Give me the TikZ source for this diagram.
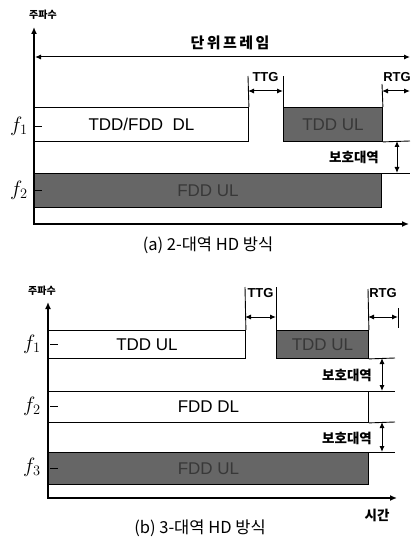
\documentclass[tikz,border=0pt]{standalone}
\usepackage{fontspec}
\setmainfont{Liberation Sans}
\newfontfamily\kr{Noto Sans CJK KR}
\usetikzlibrary{arrows.meta}
\begin{document}
\begin{tikzpicture}[x=1pt,y=-1pt,
  every node/.style={inner sep=0pt},
  ax/.style={line width=1.8pt},
  ln/.style={line width=0.9pt},
  axarr/.style={ax,{Latex[length=7pt,width=6pt]}-{Latex[length=7pt,width=6pt]}},
  dbl/.style={line width=1pt,{Latex[length=6pt,width=5pt]}-{Latex[length=6pt,width=5pt]}},
  wbox/.style={draw, line width=0.9pt, fill=white, anchor=north west, font=\fontsize{17}{17}\selectfont},
  dbox/.style={draw, line width=0.9pt, fill=black!60, anchor=north west, text=black!78, font=\fontsize{17}{17}\selectfont},
  flab/.style={font=\fontsize{21}{21}\selectfont},
  krl/.style={font=\kr\bfseries\fontsize{13.5}{13.5}\selectfont},
  krf/.style={font=\kr\bfseries\fontsize{15}{15}\selectfont},
  krs/.style={font=\kr\bfseries\fontsize{10}{10}\selectfont},
  gl/.style={font=\bfseries\fontsize{13}{13}\selectfont},
  captxt/.style={font=\kr\fontsize{16.5}{16.5}\selectfont},
]
\useasboundingbox (0,0) rectangle (411,540);

% ================= panel (a) =================
\coordinate (aY) at (34,27);
\coordinate (aO) at (34,224);
\coordinate (aX) at (409,224);
\draw[axarr] (aY) -- (aO) -- (aX);
\node[krs] (aFreq) at (43,15) {주파수};

\node[krf] (aFrame) at (230,43) {단\,위\,프\,레\,임};
\coordinate (aFL) at (35,57);
\coordinate (aFR) at (410,57);
\draw[dbl] (aFL) -- (aFR);

\node[wbox, minimum width=214pt, minimum height=34pt] (aDL) at (34,107) {TDD/FDD\ \ DL};
\node[dbox, minimum width=99pt, minimum height=34pt] (aUL) at (283,107) {TDD UL};
\node[dbox, minimum width=347pt, minimum height=34pt] (aFU) at (34,173) {FDD UL};

% TTG
\coordinate (aT1) at (248,76);
\coordinate (aT2) at (283,76);
\draw[ln] (aDL.north east) -- (aT1);
\draw[ln] (aUL.north west) -- (aT2);
\node[gl] (aTTG) at (265.5,77) {TTG};
\coordinate (aTa) at (248,91);
\coordinate (aTb) at (283,91);
\draw[dbl] (aTa) -- (aTb);

% RTG
\coordinate (aR1) at (382,84);
\draw[ln] (aUL.north east) -- (aR1);
\node[gl] (aRTG) at (397,77) {RTG};
\coordinate (aRa) at (382,91);
\coordinate (aRb) at (410,91);
\draw[dbl] (aRa) -- (aRb);

% guard band
\coordinate (aG1) at (410,141);
\coordinate (aG2) at (410,173);
\draw[ln] (aUL.south east) -- (aG1);
\draw[ln] (aFU.north east) -- (aG2);
\coordinate (aGa) at (397,141);
\coordinate (aGb) at (397,173);
\draw[dbl] (aGa) -- (aGb);
\node[krl] (aGuard) at (354,157) {보호대역};

% frequency labels
\node[flab] (af1) at (19,126) {$f_1$};
\coordinate (at1a) at (35,126); \coordinate (at1b) at (42,126);
\draw[ln] (at1a) -- (at1b);
\node[flab] (af2) at (19,190) {$f_2$};
\coordinate (at2a) at (35,190); \coordinate (at2b) at (42,190);
\draw[ln] (at2a) -- (at2b);

\node[captxt] (aCap) at (208,245) {(a) 2-대역 HD 방식};

% ================= panel (b) =================
\coordinate (bY) at (48,302);
\coordinate (bO) at (48,498);
\coordinate (bX) at (397,498);
\draw[axarr] (bY) -- (bO) -- (bX);
\node[krs] (bFreq) at (42,291) {주파수};

\node[wbox, minimum width=197pt, minimum height=28pt] (bUL) at (48,330) {TDD UL};
\node[dbox, minimum width=92pt, minimum height=28pt] (bTU) at (276,330) {TDD UL};
\node[wbox, minimum width=320pt, minimum height=31pt] (bDL) at (48,391) {FDD DL};
\node[dbox, minimum width=320pt, minimum height=32pt] (bFU) at (48,452) {FDD UL};

% TTG
\coordinate (bT1) at (245,287);
\coordinate (bT2) at (276,287);
\draw[ln] (bUL.north east) -- (bT1);
\draw[ln] (bTU.north west) -- (bT2);
\node[gl] (bTTG) at (260.5,293) {TTG};
\coordinate (bTa) at (245,317);
\coordinate (bTb) at (276,317);
\draw[dbl] (bTa) -- (bTb);

% RTG
\coordinate (bR1) at (368,289);
\draw[ln] (bTU.north east) -- (bR1);
\node[gl] (bRTG) at (383,293) {RTG};
\coordinate (bRa) at (368,317);
\coordinate (bRb) at (398,317);
\draw[dbl] (bRa) -- (bRb);
\coordinate (bRt1) at (398,308);
\coordinate (bRt2) at (398,328);
\draw[ln] (bRt1) -- (bRt2);

% guard lines
\coordinate (bL1) at (395,358);
\coordinate (bL2) at (395,391);
\coordinate (bL3) at (395,422);
\coordinate (bL4) at (395,452);
\draw[ln] (bTU.south east) -- (bL1);
\draw[ln] (bDL.north east) -- (bL2);
\draw[ln] (bDL.south east) -- (bL3);
\draw[ln] (bFU.north east) -- (bL4);
\coordinate (bGa) at (382,358);
\coordinate (bGb) at (382,391);
\draw[dbl] (bGa) -- (bGb);
\node[krl] (bGuard1) at (347,375) {보호대역};
\coordinate (bGc) at (382,422);
\coordinate (bGd) at (382,452);
\draw[dbl] (bGc) -- (bGd);
\node[krl] (bGuard2) at (347,438) {보호대역};

% frequency labels
\node[flab] (bf1) at (32,344) {$f_1$};
\coordinate (bt1a) at (50,344); \coordinate (bt1b) at (58,344);
\draw[ln] (bt1a) -- (bt1b);
\node[flab] (bf2) at (32,406) {$f_2$};
\coordinate (bt2a) at (50,406); \coordinate (bt2b) at (58,406);
\draw[ln] (bt2a) -- (bt2b);
\node[flab] (bf3) at (32,467) {$f_3$};
\coordinate (bt3a) at (50,468); \coordinate (bt3b) at (58,468);
\draw[ln] (bt3a) -- (bt3b);

\node[krl] (bTime) at (377,515) {시간};
\node[captxt] (bCap) at (200,528) {(b) 3-대역 HD 방식};
\end{tikzpicture}
\end{document}
